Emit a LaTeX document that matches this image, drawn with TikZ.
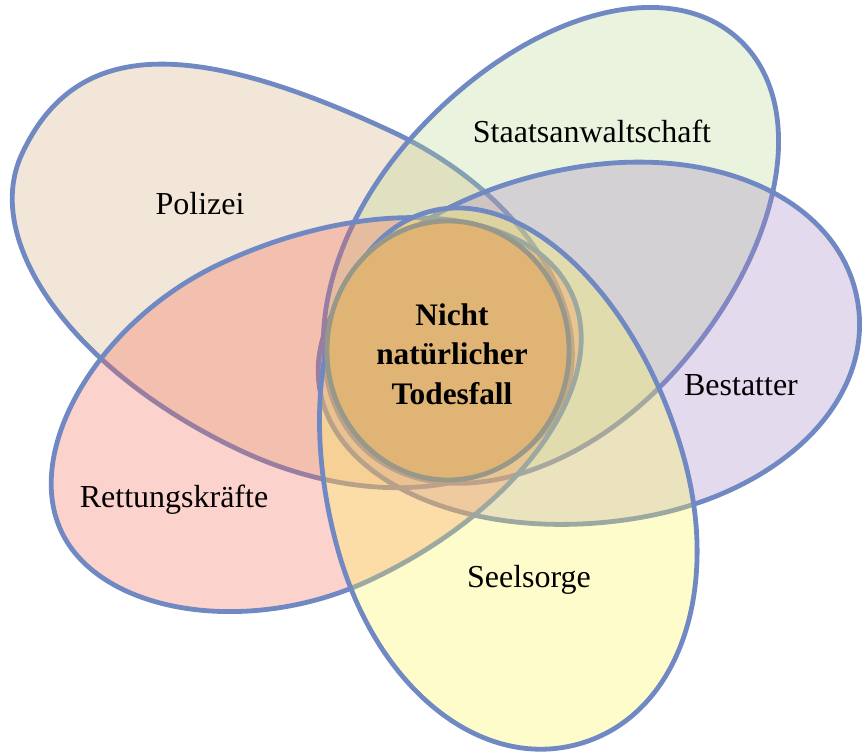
\documentclass[tikz,border=0pt]{standalone}
\newif\ifpala
\IfFileExists{t1ppl.fd}{\IfFileExists{uplr8t.tfm}{\palatrue}{\palafalse}}{\palafalse}
\ifpala
  \usepackage[T1]{fontenc}
  \renewcommand{\rmdefault}{ppl}
  \newcommand{\labfont}{\fontsize{22}{27}\selectfont}
  \newcommand{\ctrfont}{\fontsize{21.7}{29.6}\selectfont\bfseries}
\else
  \usepackage{fontspec}
  \setmainfont{Liberation Serif}
  \newcommand{\labfont}{\fontsize{24}{29}\selectfont}
  \newcommand{\ctrfont}{\fontsize{23.5}{29.6}\selectfont\bfseries}
\fi
\definecolor{bl}{HTML}{7189C3}
\definecolor{polc}{HTML}{D4AC7D}
\definecolor{stac}{HTML}{B6D78E}
\definecolor{besc}{HTML}{A584C6}
\definecolor{retc}{HTML}{F56955}
\definecolor{seec}{HTML}{FFF552}
\definecolor{circf}{HTML}{DFB475}
\definecolor{circb}{HTML}{979889}
% egg: outer half length #1, inner half length #2, half width #3,
% bluntness of the outer end on the +y side #4 and on the -y side #5
\newcommand{\eggshape}[5]{(#1,0) .. controls (#1,#4*#3) and (#4*#1,#3) .. (0,#3)
  .. controls (-0.5523*#2,#3) and (-#2,0.5523*#3) .. (-#2,0)
  .. controls (-#2,-0.5523*#3) and (-0.5523*#2,-#3) .. (0,-#3)
  .. controls (#5*#1,-#3) and (#1,-#5*#3) .. cycle}
\begin{document}
\begin{tikzpicture}[x=0.75pt,y=-0.75pt,line join=round]
\tikzset{
  petal/.style={draw=bl,line width=3.6pt},
  tint/.style={fill=#1,fill opacity=0.3},
  lab/.style={font=\labfont,anchor=base,inner sep=0pt},
  ctr/.style={font=\ctrfont,align=center,inner sep=0pt}
}
\useasboundingbox (0,0) rectangle (863,753);
% Polizei
\begin{scope}[shift={(316.5,291.2)},rotate=155]
  \fill[tint=polc] \eggshape{325}{270}{176.5}{0.70}{0.56};
  \draw[petal] \eggshape{325}{270}{176.5}{0.70}{0.56};
\end{scope}
% Staatsanwaltschaft
\begin{scope}[shift={(543.7,253.8)},rotate=48]
  \fill[tint=stac] \eggshape{290}{265}{176}{0.56}{0.56};
  \draw[petal] \eggshape{290}{265}{176}{0.56}{0.56};
\end{scope}
% Bestatter
\begin{scope}[shift={(606,342.8)},rotate=9]
  \fill[tint=besc] \eggshape{255}{290}{178}{0.57}{0.57};
  \draw[petal] \eggshape{255}{290}{178}{0.57}{0.57};
\end{scope}
% Rettungskraefte
\begin{scope}[shift={(295,422)},rotate=205]
  \fill[tint=retc] \eggshape{258}{305}{175}{0.52}{0.52};
  \draw[petal] \eggshape{258}{305}{175}{0.52}{0.52};
\end{scope}
% Seelsorge
\begin{scope}[shift={(510.8,503.4)},rotate=-74]
  \fill[tint=seec] \eggshape{250}{303}{179}{0.57}{0.57};
  \draw[petal] \eggshape{250}{303}{179}{0.57}{0.57};
\end{scope}
% centre
\draw[draw=circb,fill=circf,line width=3.6pt] (448,350.5) ellipse [x radius=121,y radius=129.5];
\node[lab] (pol) at (200,214) {Polizei};
\node[lab] (sta) at (592,142) {Staatsanwaltschaft};
\node[lab] (bes) at (741,395) {Bestatter};
\node[lab] (ret) at (174,507) {Rettungskr\"afte};
\node[lab] (see) at (529,587) {Seelsorge};
\node[ctr] (tod) at (452,354) {Nicht\\nat\"urlicher\\Todesfall};
\end{tikzpicture}
\end{document}
